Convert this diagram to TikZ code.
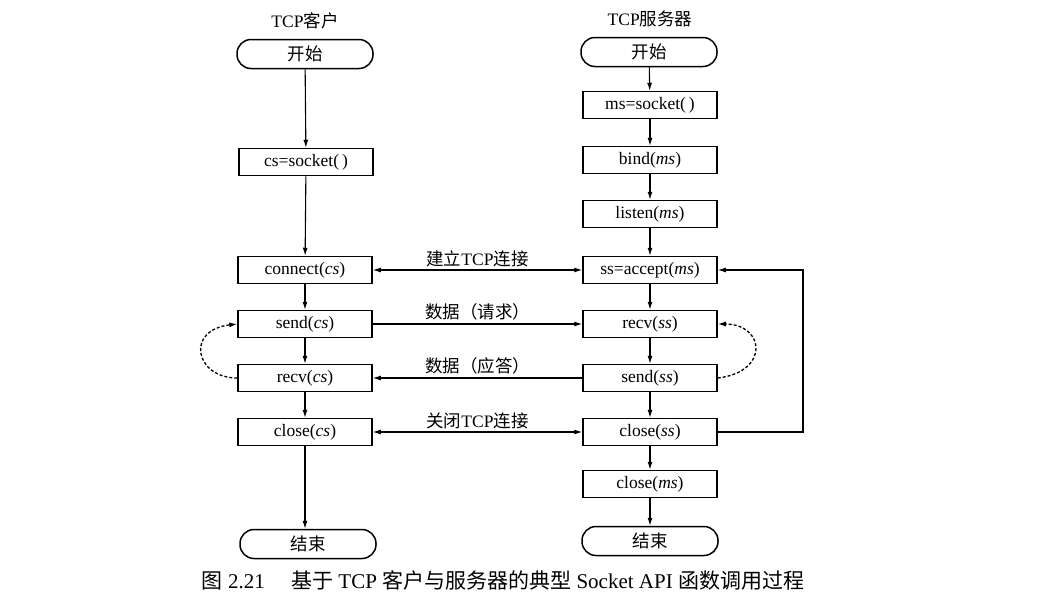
\documentclass[tikz,border=0pt]{standalone}
\usepackage{fontspec}
\setmainfont{Liberation Serif}
\newfontfamily\cjk{Noto Sans CJK SC}
\newcommand{\zh}[1]{{\cjk #1}}
\usetikzlibrary{arrows.meta}
\begin{document}
\begin{tikzpicture}[x=1pt,y=-1pt,
  every node/.style={font=\fontsize{17.5}{19}\selectfont},
  box/.style={draw,line width=1.5pt,minimum width=134pt,minimum height=27pt,inner sep=0pt},
  term/.style={draw,line width=1.5pt,minimum width=136pt,minimum height=29pt,rounded corners=14pt,inner sep=0pt},
  flow/.style={line width=1.1pt,-{Latex[length=8pt,width=5pt]}},
  both/.style={line width=1.1pt,{Latex[length=8pt,width=5pt]}-{Latex[length=8pt,width=5pt]}},
  loopdash/.style={line width=1.3pt,dash pattern=on 3pt off 2pt,-{Latex[length=8pt,width=5pt]}},
  lbl/.style={inner sep=1pt}]
\useasboundingbox (0,0) rectangle (1039,606);
% client
\node (ct) at (305,21) {TCP\zh{客户}};
\node[term] (cstart) at (305,54) {\zh{开始}};
\node[box] (csock) at (306,162) {cs=socket(\,)};
\node[box] (conn) at (305,270) {connect(\textit{cs})};
\node[box] (csend) at (305,324) {send(\textit{cs})};
\node[box] (crecv) at (305,378) {recv(\textit{cs})};
\node[box] (cclose) at (305,432) {close(\textit{cs})};
\node[term] (cend) at (308,544) {\zh{结束}};
% server
\node (st) at (650,19) {TCP\zh{服务器}};
\node[term] (sstart) at (649,52) {\zh{开始}};
\node[box] (msock) at (650,105) {ms=socket(\,)};
\node[box] (bind) at (650,160) {bind(\textit{ms})};
\node[box] (listen) at (650,214) {listen(\textit{ms})};
\node[box] (accept) at (650,270) {ss=accept(\textit{ms})};
\node[box] (srecv) at (650,324) {recv(\textit{ss})};
\node[box] (ssend) at (650,378) {send(\textit{ss})};
\node[box] (sclose) at (650,432) {close(\textit{ss})};
\node[box] (mclose) at (650,484) {close(\textit{ms})};
\node[term] (send) at (650,541) {\zh{结束}};
% client flow
\draw[flow] (cstart) -- (csock);
\draw[flow] (csock) -- (conn);
\draw[flow] (conn) -- (csend);
\draw[flow] (csend) -- (crecv);
\draw[flow] (crecv) -- (cclose);
\draw[flow] (cclose) -- (cend.north -| cclose);
% server flow
\draw[flow] (sstart) -- (msock);
\draw[flow] (msock) -- (bind);
\draw[flow] (bind) -- (listen);
\draw[flow] (listen) -- (accept);
\draw[flow] (accept) -- (srecv);
\draw[flow] (srecv) -- (ssend);
\draw[flow] (ssend) -- (sclose);
\draw[flow] (sclose) -- (mclose);
\draw[flow] (mclose) -- (send);
% cross connections
\draw[both] (conn) -- node[lbl,above=2pt] {\zh{建立}TCP\zh{连接}} (accept);
\draw[flow] (csend) -- node[lbl,above=2pt] {\zh{数据（请求）}} (srecv);
\draw[flow] (ssend) -- node[lbl,above=2pt] {\zh{数据（应答）}} (crecv);
\draw[both] (cclose) -- node[lbl,above=2pt] {\zh{关闭}TCP\zh{连接}} (sclose);
% return loop
\coordinate (lb) at (803,432);
\coordinate (lt) at (803,270);
\draw[flow] (sclose.east) -- (lb) -- (lt) -- (accept.east);
% dashed loops
\draw[loopdash] (crecv.west) .. controls (195,378) and (185,330) .. (csend.west);
\draw[loopdash] (ssend.east) .. controls (770,372) and (765,324) .. (srecv.east);
% caption
\node (cap) at (503,580) {\fontsize{21}{23}\selectfont\zh{图} 2.21\quad\ \zh{基于} TCP \zh{客户与服务器的典型} Socket API \zh{函数调用过程}};
\end{tikzpicture}
\end{document}
